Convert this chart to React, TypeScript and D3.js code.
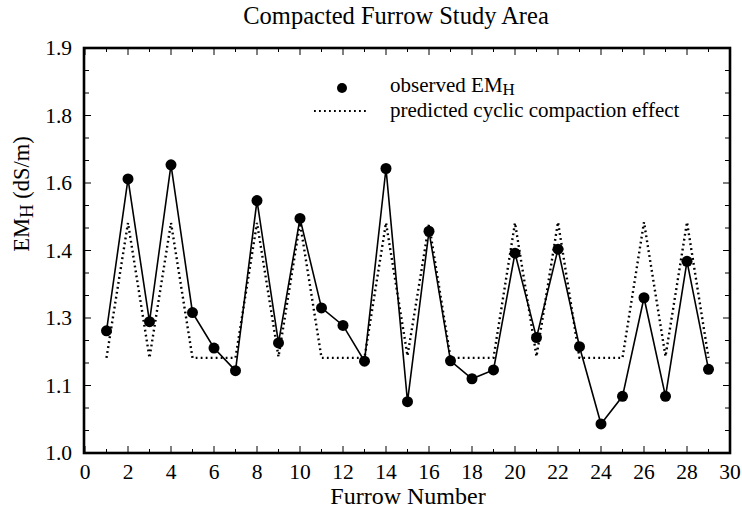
import React from "react";
import * as d3 from "d3";

const furrows = [1,2,3,4,5,6,7,8,9,10,11,12,13,14,15,16,17,18,19,20,21,22,23,24,25,26,27,28,29];
const observed = [1.262,1.612,1.289,1.654,1.308,1.211,1.144,1.548,1.226,1.495,1.315,1.278,1.172,1.643,1.076,1.457,1.173,1.120,1.146,1.396,1.242,1.404,1.215,1.043,1.084,1.330,1.084,1.384,1.148];
const predicted = [1.182,1.482,1.182,1.482,1.182,1.182,1.182,1.482,1.185,1.482,1.182,1.182,1.182,1.482,1.188,1.478,1.182,1.182,1.182,1.482,1.186,1.484,1.182,1.182,1.182,1.484,1.186,1.484,1.182];
const yTickValues = [1.0,1.1,1.3,1.4,1.6,1.8,1.9];
const yTickLabels = ["1.0","1.1","1.3","1.4","1.6","1.8","1.9"];
const xTickValues = [0,2,4,6,8,10,12,14,16,18,20,22,24,26,28,30];

const W = 742, H = 516;
const left = 84, right = 730, top = 48, bottom = 453;
const FONT = "'Liberation Serif', 'Times New Roman', serif";

export default function App() {
  const x = d3.scaleLinear().domain([0, 30]).range([left + 1, right]);
  const yRange = yTickValues.map((_, i) => bottom - (i * (bottom - top)) / (yTickValues.length - 1));
  const y = d3.scaleLinear().domain(yTickValues).range(yRange);

  const lineObs = d3.line<number>().x((_, i) => x(furrows[i])).y((d) => y(d))(observed) || "";
  const linePred = d3.line<number>().x((_, i) => x(furrows[i])).y((d) => y(d))(predicted) || "";

  const yTickPix: { py: number; major: boolean }[] = [];
  for (let i = 0; i < yRange.length; i++) {
    yTickPix.push({ py: yRange[i], major: true });
    if (i < yRange.length - 1) {
      const step = (yRange[i + 1] - yRange[i]) / 3;
      yTickPix.push({ py: yRange[i] + step, major: false });
      yTickPix.push({ py: yRange[i] + 2 * step, major: false });
    }
  }
  const xAll = d3.range(0, 31);

  return (
    <svg width={W} height={H} style={{ position: "absolute", left: 0, top: 0, background: "#fff" }} fontFamily={FONT}>
      <rect width={W} height={H} fill="#fff" />
      <text x={396} y={24} textAnchor="middle" fontSize={24.5}>Compacted Furrow Study Area</text>

      {xAll.map((v) => {
        const len = v % 2 === 0 ? 7 : 4;
        return (
          <g key={"xt" + v} stroke="#000" strokeWidth={1}>
            <line x1={x(v)} x2={x(v)} y1={bottom} y2={bottom - len} />
            <line x1={x(v)} x2={x(v)} y1={top} y2={top + len} />
          </g>
        );
      })}
      {yTickPix.map((t, i) => {
        const len = t.major ? 7 : 5;
        return (
          <g key={"yt" + i} stroke="#000" strokeWidth={1}>
            <line x1={left} x2={left + len} y1={t.py} y2={t.py} />
            <line x1={right} x2={right - len} y1={t.py} y2={t.py} />
          </g>
        );
      })}

      {yTickValues.map((v, i) => (
        <text key={"yl" + i} x={72} y={y(v) + 7} textAnchor="end" fontSize={21.5}>{yTickLabels[i]}</text>
      ))}
      {xTickValues.map((v) => (
        <text key={"xl" + v} x={x(v)} y={479} textAnchor="middle" fontSize={21.5}>{v}</text>
      ))}

      <text x={408} y={504} textAnchor="middle" fontSize={24}>Furrow Number</text>
      <text transform={`translate(29, 194) rotate(-90)`} textAnchor="middle" fontSize={22.5}>
        EM<tspan fontSize={19} dy={4}>H</tspan><tspan dy={-4}> (dS/m)</tspan>
      </text>

      <path d={linePred} fill="none" stroke="#000" strokeWidth={2.4} strokeDasharray="1.8,3.2" />
      <path d={lineObs} fill="none" stroke="#000" strokeWidth={1.6} />
      {observed.map((v, i) => (
        <circle key={"p" + i} cx={x(furrows[i])} cy={y(v)} r={5.5} fill="#000" />
      ))}

      <circle cx={342} cy={88} r={5} fill="#000" />
      <text x={390} y={92} fontSize={21}>observed EM<tspan fontSize={17} dy={3}>H</tspan></text>
      <line x1={314} x2={368} y1={111} y2={111} stroke="#000" strokeWidth={2.2} strokeDasharray="1.8,3.2" />
      <text x={390} y={117} fontSize={21}>predicted cyclic compaction effect</text>

      <rect x={left} y={top} width={right - left} height={bottom - top} fill="none" stroke="#000" strokeWidth={2.6} />
    </svg>
  );
}
